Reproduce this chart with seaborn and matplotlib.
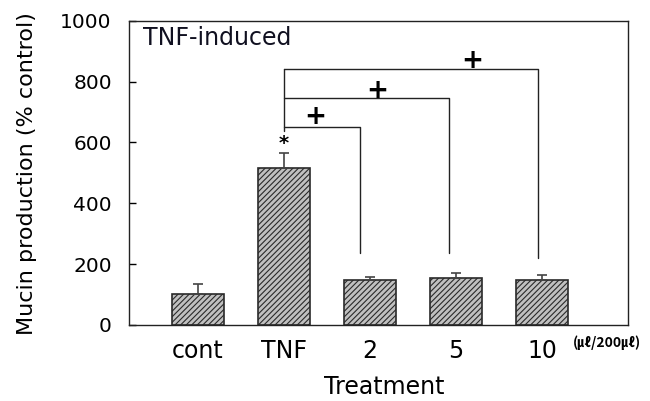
import matplotlib
matplotlib.use("Agg")
import matplotlib.pyplot as plt
import seaborn as sns
import pandas as pd

treatments = ["cont", "TNF", "2", "5", "10"]
mucin = [101, 517, 147, 153, 146]
err = [32, 49, 11, 17, 19]

# significance brackets: TNF vs each dose
bracket_x = [1.89, 2.92, 3.96]
bracket_top = [651, 745, 843]
bracket_bottom = [237, 235, 220]
plus_x = [1.36, 2.09, 3.19]
plus_y = [683, 770, 867]

sns.set_style("white")
plt.rcParams["font.family"] = ["DejaVu Sans"]
plt.rcParams["text.color"] = "black"
plt.rcParams["axes.labelcolor"] = "black"
plt.rcParams["xtick.color"] = "black"
plt.rcParams["ytick.color"] = "black"
plt.rcParams["hatch.color"] = "#3a3a3a"
plt.rcParams["hatch.linewidth"] = 0.8

df = pd.DataFrame({"Treatment": treatments, "Mucin": mucin})

fig = plt.figure(figsize=(6.5, 4.01), dpi=100)
ax = fig.add_axes([0.1985, 0.19, 0.7675, 0.758])

sns.barplot(data=df, x="Treatment", y="Mucin", color="#c0c0c0", width=0.6,
            edgecolor="#2a2a2a", linewidth=1.2, ax=ax)
for p in ax.patches:
    p.set_hatch("//////")

ax.errorbar(range(len(treatments)), mucin, yerr=[[0] * len(err), err], fmt="none",
            ecolor="#444444", elinewidth=1.2, capsize=3.5, capthick=1.2)

# brackets
ax.plot([1, 1], [638, bracket_top[-1]], color="#222222", lw=1)
for bx, top, bot in zip(bracket_x, bracket_top, bracket_bottom):
    ax.plot([1, bx, bx], [top, top, bot], color="#222222", lw=1)
for px, py in zip(plus_x, plus_y):
    ax.text(px, py, "+", ha="center", va="center", fontsize=19, fontweight="bold")
ax.text(1, 595, "*", ha="center", va="center", fontsize=14, fontweight="bold")

ax.text(0.028, 0.943, "TNF-induced", transform=ax.transAxes, fontsize=17,
        ha="left", va="center", color="#101020")

ax.set_xlim(-0.8, 5.0)
ax.set_ylim(0, 1000)
ax.set_yticks([0, 200, 400, 600, 800, 1000])
ax.tick_params(axis="y", direction="in", length=5, width=1, left=True,
               labelsize=14.5, pad=12.4)
ax.tick_params(axis="x", length=0, labelsize=17, pad=10)
ax.set_xlabel("Treatment", fontsize=17)
ax.xaxis.set_label_coords(0.511, -0.165)
ax.set_ylabel("Mucin production (% control)", fontsize=16)
ax.yaxis.set_label_coords(-0.184, 0.499)

for s in ax.spines.values():
    s.set_visible(True)
    s.set_color("#222222")
    s.set_linewidth(1)

ax.text(0.889, -0.06, "(㎕/200㎕)", transform=ax.transAxes,
        fontsize=10, ha="left", va="center", fontweight="bold",
        family=["Noto Sans CJK KR", "DejaVu Sans"])

fig.savefig("out.png", dpi=100)
